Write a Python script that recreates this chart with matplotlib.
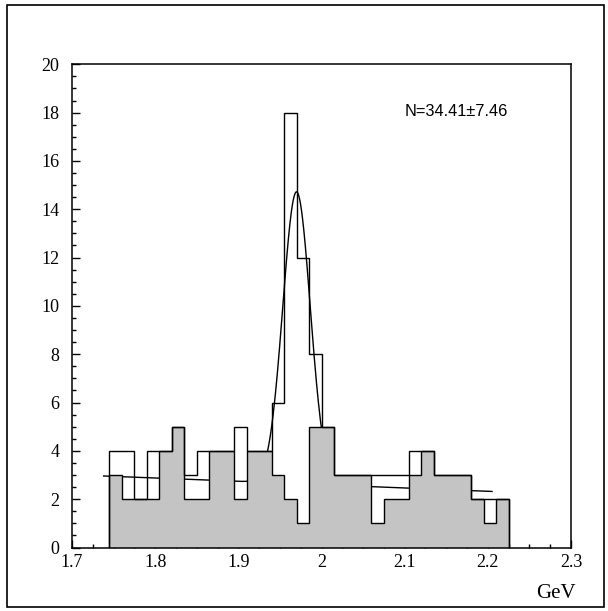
import numpy as np
import matplotlib
matplotlib.use("Agg")
import matplotlib.pyplot as plt
from matplotlib.patches import Rectangle

# ---- data ----
bin_lo = 1.745
bin_w = 0.015
n_bins = 32
total_counts = [4, 4, 2, 4, 4, 5, 3, 4, 4, 4, 5, 4, 4, 6, 18, 12,
                8, 5, 3, 3, 3, 3, 3, 3, 4, 4, 3, 3, 3, 2, 2, 2]
side_counts = [3, 2, 2, 2, 4, 5, 2, 2, 4, 4, 2, 4, 4, 3, 2, 1,
               5, 5, 3, 3, 3, 1, 2, 2, 3, 4, 3, 3, 3, 2, 1, 2]
# fit: gaussian + linear background
gauss_amp = 12.08
gauss_mean = 1.970
gauss_sigma = 0.0165
bg_x0 = 1.738
bg_y0 = 2.96
bg_slope = -1.37
fit_range = [1.738, 2.205]
x_ticks = [1.7, 1.8, 1.9, 2.0, 2.1, 2.2, 2.3]
x_tick_labels = ["1.7", "1.8", "1.9", "2", "2.1", "2.2", "2.3"]
y_ticks = [0, 2, 4, 6, 8, 10, 12, 14, 16, 18, 20]
annotation = "N=34.41\u00b17.46"
x_unit = "GeV"

edges = bin_lo + bin_w * np.arange(n_bins + 1)

W, H = 608, 611
fig = plt.figure(figsize=(W / 100, H / 100), dpi=100)
fig.patch.set_facecolor("white")
ax = fig.add_axes([72 / W, 1 - 547.5 / H, (571 - 72) / W, (547.5 - 64.3) / H])

# fit curve (behind the shaded histogram)
xf = np.linspace(fit_range[0], fit_range[1], 800)
yf = gauss_amp * np.exp(-0.5 * ((xf - gauss_mean) / gauss_sigma) ** 2) + bg_y0 + bg_slope * (xf - bg_x0)
ax.plot(xf, yf, color="black", lw=1.0, zorder=1)

# shaded histogram
ax.stairs(side_counts, edges, fill=True, color="#c4c4c4", zorder=2)
ax.stairs(side_counts, edges, baseline=0, color="black", lw=1.0, zorder=3)
# open histogram
ax.stairs(total_counts, edges, baseline=0, color="black", lw=1.0, zorder=4)

ax.set_xlim(1.7, 2.3)
ax.set_ylim(0, 20)
ax.set_xticks(x_ticks)
ax.set_xticklabels(x_tick_labels)
ax.set_yticks(y_ticks)
ax.set_xticks(np.arange(1.7, 2.3001, 0.025), minor=True)
ax.set_yticks(np.arange(0, 20.001, 0.5), minor=True)
ax.tick_params(which="both", direction="in", top=False, right=False)
ax.tick_params(which="major", length=5.5, width=1.0)
ax.tick_params(which="minor", length=3, width=1.0)
ax.tick_params(axis="x", which="major", pad=5)
ax.tick_params(axis="y", which="major", pad=9)
for lab in ax.get_xticklabels() + ax.get_yticklabels():
    lab.set_fontfamily("Liberation Serif")
    lab.set_fontsize(13)
for s in ax.spines.values():
    s.set_linewidth(1.1)

ax.text((405 - 72) / (571 - 72), 1 - (112 - 64.3) / (547.5 - 64.3), annotation,
        transform=ax.transAxes, fontfamily="Liberation Sans", fontsize=11.8,
        ha="left", va="center")

fig.text(576 / W, 1 - 594 / H, x_unit, fontfamily="Liberation Serif", fontsize=15,
         ha="right", va="center")

# outer border
fig.patches.append(Rectangle((7 / W, 1 - 607 / H), (604 - 7) / W, (607 - 5) / H,
                             transform=fig.transFigure, fill=False, ec="black", lw=1.2))

fig.savefig("out.png", dpi=100, facecolor="white")
